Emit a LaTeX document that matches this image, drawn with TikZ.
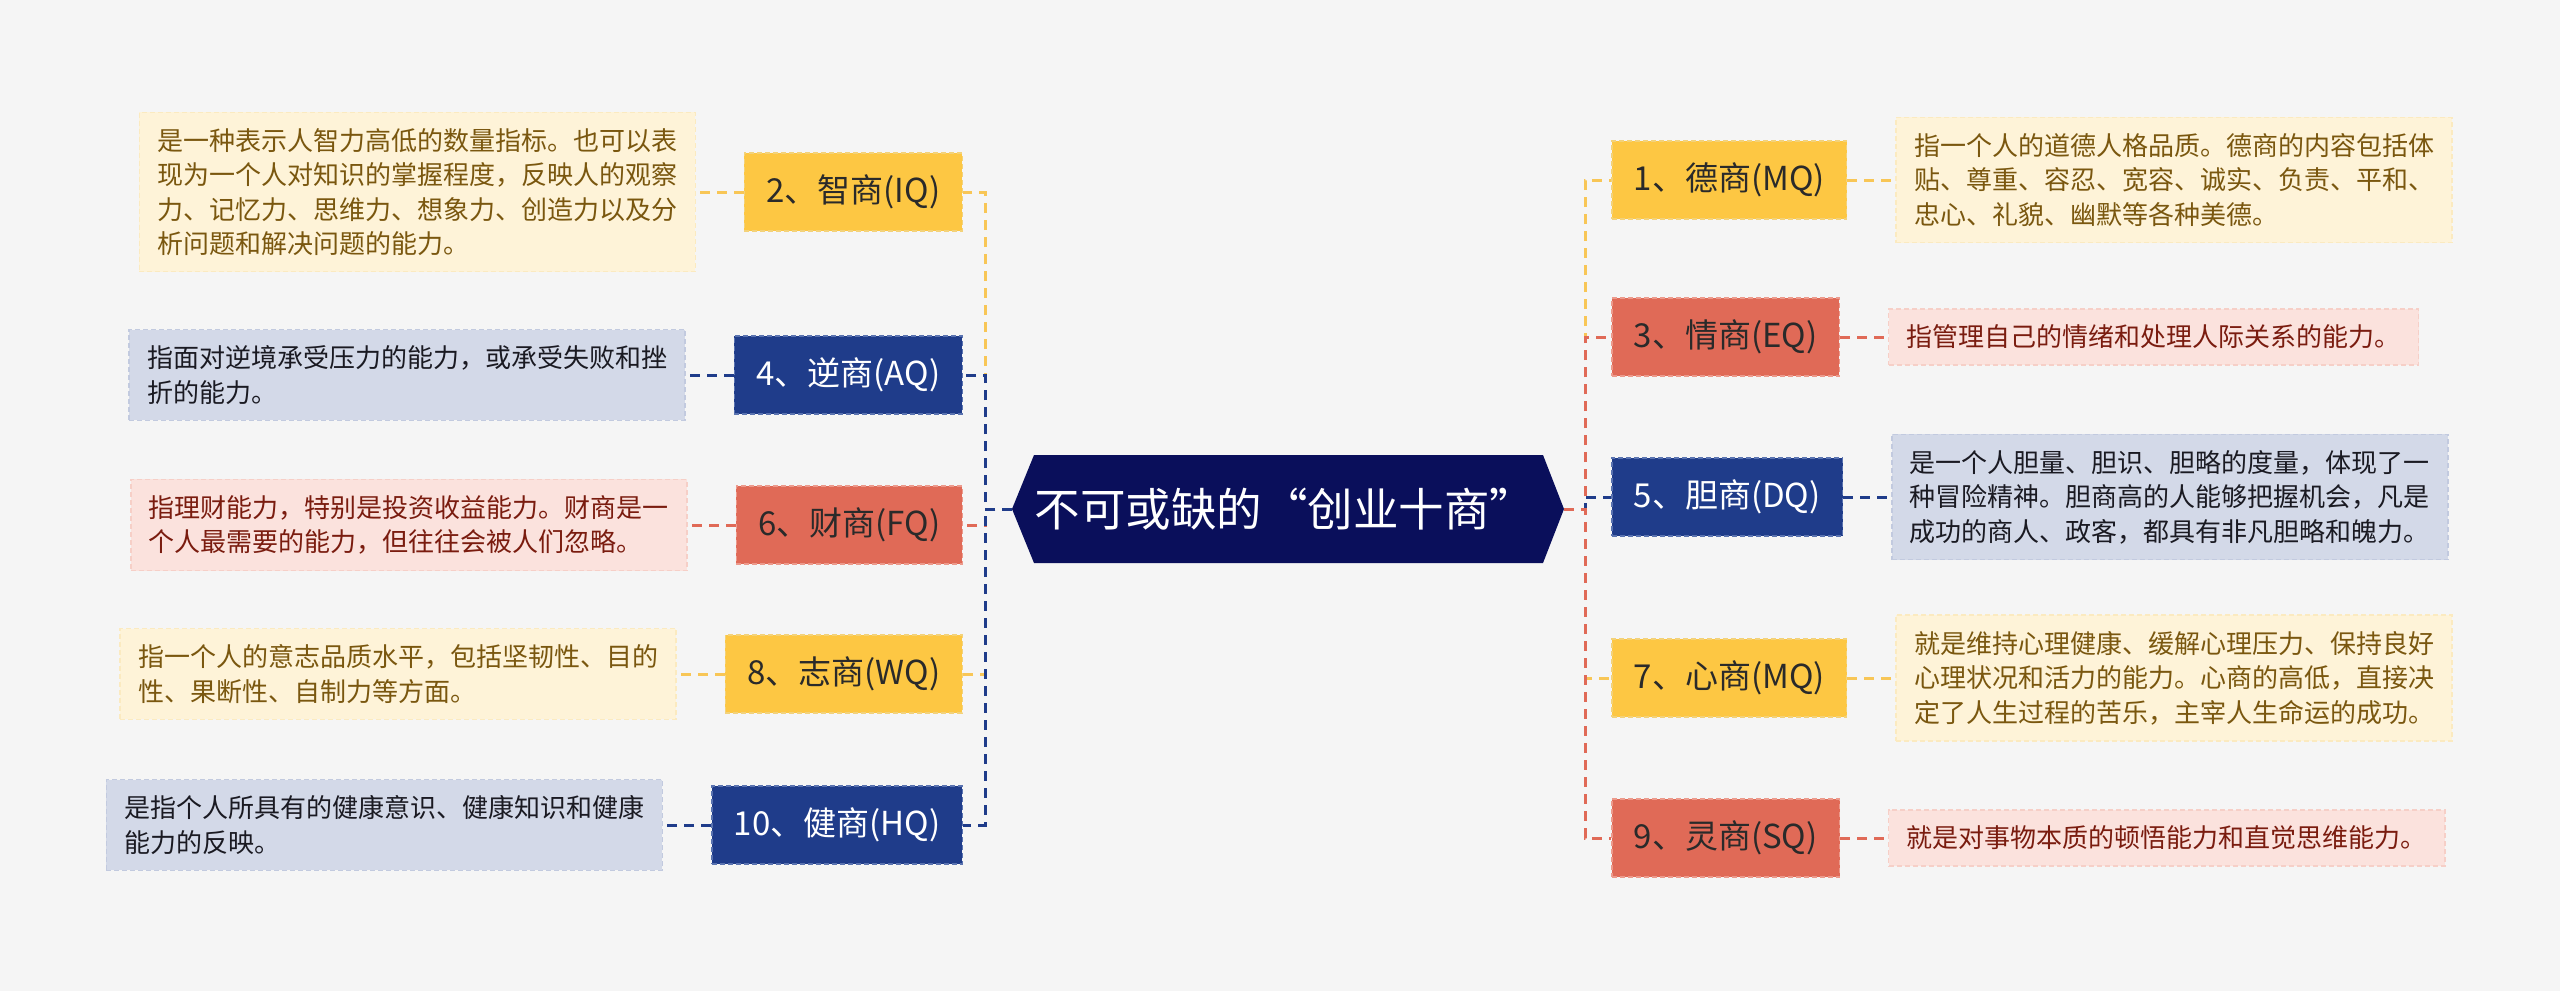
\documentclass[tikz,border=0pt]{standalone}
\usepackage{fontspec}
\setmainfont{Noto Sans CJK SC}
\usetikzlibrary{positioning}
\definecolor{bg}{HTML}{F5F5F5}
\definecolor{navy}{HTML}{0A0F5B}
\definecolor{yel}{HTML}{FDC743}
\definecolor{yelB}{HTML}{F3D27A}
\definecolor{yelL}{HTML}{F8C656}
\definecolor{red}{HTML}{E06A57}
\definecolor{redB}{HTML}{EC9A8C}
\definecolor{blu}{HTML}{1F3C8A}
\definecolor{bluB}{HTML}{5A73B0}
\definecolor{txt}{HTML}{2A2A2A}
\definecolor{dY}{HTML}{FEF3D8}
\definecolor{dYB}{HTML}{FBEAC0}
\definecolor{dYT}{HTML}{7A570F}
\definecolor{dR}{HTML}{FBE2DD}
\definecolor{dRB}{HTML}{F6CFC7}
\definecolor{dRT}{HTML}{7A1C0F}
\definecolor{dB}{HTML}{D3D9E8}
\definecolor{dBB}{HTML}{C2CADF}
\definecolor{dBT}{HTML}{1A1A22}
\tikzset{
  mainbox/.style={rectangle, inner xsep=22pt, inner ysep=0pt, minimum height=78pt,
    font=\fontsize{33}{38}\selectfont, line width=1.5pt, dash pattern=on 5pt off 3pt},
  ybox/.style={mainbox, fill=yel, draw=yelB, text=txt},
  rbox/.style={mainbox, fill=red, draw=redB, text=txt},
  bbox/.style={mainbox, fill=blu, draw=bluB, text=white},
  desc/.style={rectangle, align=left, inner xsep=18pt, inner ysep=16pt,
    font=\fontsize{26}{34.5}\selectfont, line width=1.2pt, dash pattern=on 5pt off 3pt},
  ydesc/.style={desc, fill=dY, draw=dYB, text=dYT},
  rdesc/.style={desc, fill=dR, draw=dRB, text=dRT},
  bdesc/.style={desc, fill=dB, draw=dBB, text=dBT},
  conn/.style={line width=3pt, dash pattern=on 10pt off 7pt},
}
\begin{document}
\begin{tikzpicture}[x=1pt,y=-1pt]
\fill[bg] (0,0) rectangle (2560,991);
\useasboundingbox (0,0) rectangle (2560,991);
% center
\fill[navy] (1012,509) -- (1034,455) -- (1543,455) -- (1564,509) -- (1543,563) -- (1034,563) -- cycle;
\node[font=\fontsize{45.5}{50}\selectfont, text=white, inner sep=0pt] (c) at (1285,509) {不可或缺的“创业十商”};
\coordinate (cW) at (1012,509);
\coordinate (cE) at (1564,509);
\coordinate (tl) at (985,509);
\coordinate (tr) at (1585,509);
% right side
\node[ybox, anchor=west] (n1) at (1611,180) {1、德商(MQ)};
\node[rbox, anchor=west] (n3) at (1611,337) {3、情商(EQ)};
\node[bbox, anchor=west] (n5) at (1611,497) {5、胆商(DQ)};
\node[ybox, anchor=west] (n7) at (1611,678) {7、心商(MQ)};
\node[rbox, anchor=west] (n9) at (1611,838) {9、灵商(SQ)};
% left side
\node[ybox, anchor=east] (n2) at (963,192) {2、智商(IQ)};
\node[bbox, anchor=east] (n4) at (963,375) {4、逆商(AQ)};
\node[rbox, anchor=east] (n6) at (963,525) {6、财商(FQ)};
\node[ybox, anchor=east] (n8) at (963,674) {8、志商(WQ)};
\node[bbox, anchor=east] (n10) at (963,825) {10、健商(HQ)};
% descriptions right
\node[ydesc, right=48pt of n1] (d1) {指一个人的道德人格品质。德商的内容包括体\\贴、尊重、容忍、宽容、诚实、负责、平和、\\忠心、礼貌、幽默等各种美德。};
\node[rdesc, right=48pt of n3] (d3) {指管理自己的情绪和处理人际关系的能力。};
\node[bdesc, right=48pt of n5] (d5) {是一个人胆量、胆识、胆略的度量，体现了一\\种冒险精神。胆商高的人能够把握机会，凡是\\成功的商人、政客，都具有非凡胆略和魄力。};
\node[ydesc, right=48pt of n7] (d7) {就是维持心理健康、缓解心理压力、保持良好\\心理状况和活力的能力。心商的高低，直接决\\定了人生过程的苦乐，主宰人生命运的成功。};
\node[rdesc, right=48pt of n9] (d9) {就是对事物本质的顿悟能力和直觉思维能力。};
% descriptions left
\node[ydesc, left=48pt of n2] (d2) {是一种表示人智力高低的数量指标。也可以表\\现为一个人对知识的掌握程度，反映人的观察\\力、记忆力、思维力、想象力、创造力以及分\\析问题和解决问题的能力。};
\node[bdesc, left=48pt of n4] (d4) {指面对逆境承受压力的能力，或承受失败和挫\\折的能力。};
\node[rdesc, left=48pt of n6] (d6) {指理财能力，特别是投资收益能力。财商是一\\个人最需要的能力，但往往会被人们忽略。};
\node[ydesc, left=48pt of n8] (d8) {指一个人的意志品质水平，包括坚韧性、目的\\性、果断性、自制力等方面。};
\node[bdesc, left=48pt of n10] (d10) {是指个人所具有的健康意识、健康知识和健康\\能力的反映。};
% trunk connectors left
\draw[conn, yelL] (cW) -- (tl) |- (n2.east);
\draw[conn, blu] (cW) -- (tl) |- (n4.east);
\draw[conn, red] (cW) -- (tl) |- (n6.east);
\draw[conn, yelL] (cW) -- (tl) |- (n8.east);
\draw[conn, blu] (cW) -- (tl) |- (n10.east);
% trunk connectors right
\draw[conn, yelL] (cE) -- (tr) |- (n1.west);
\draw[conn, red] (cE) -- (tr) |- (n3.west);
\draw[conn, blu] (cE) -- (tr) |- (n5.west);
\draw[conn, yelL] (cE) -- (tr) |- (n7.west);
\draw[conn, red] (cE) -- (tr) |- (n9.west);
% box to description
\draw[conn, yelL] (n1.east) -- (d1.west);
\draw[conn, red] (n3.east) -- (d3.west);
\draw[conn, blu] (n5.east) -- (d5.west);
\draw[conn, yelL] (n7.east) -- (d7.west);
\draw[conn, red] (n9.east) -- (d9.west);
\draw[conn, yelL] (n2.west) -- (d2.east);
\draw[conn, blu] (n4.west) -- (d4.east);
\draw[conn, red] (n6.west) -- (d6.east);
\draw[conn, yelL] (n8.west) -- (d8.east);
\draw[conn, blu] (n10.west) -- (d10.east);
\end{tikzpicture}
\end{document}
